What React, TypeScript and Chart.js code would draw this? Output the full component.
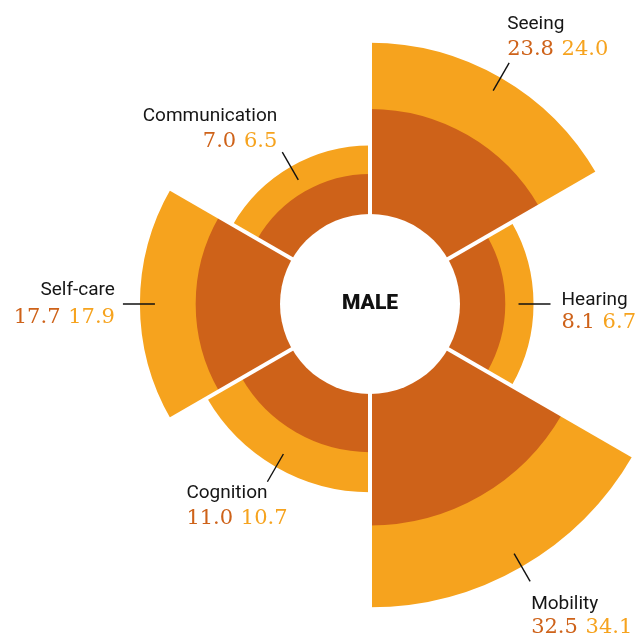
import React, { useEffect, useRef } from 'react';
import { Chart, registerables, RadialLinearScale } from 'chart.js';

Chart.register(...registerables);

// ---- data ----
const categories = ['Seeing', 'Hearing', 'Mobility', 'Cognition', 'Self-care', 'Communication'];
const innerValues = [23.8, 8.1, 32.5, 11.0, 17.7, 7.0];
const outerValues = [24.0, 6.7, 34.1, 10.7, 17.9, 6.5];
const centerLabel = 'MALE';

// ---- styles ----
const DARK = '#CE6219';
const LIGHT = '#F6A31E';
const TEXT = '#161616';
const NAME_FONT = '400 19px Roboto';
const NUM_FONT = '400 21px "DejaVu Serif"';
const CENTER_FONT = '900 21px Roboto';
const HOLE_FRACTION = 90 / 268;
const SCALE_MAX = 50.6;

// label placement relative to the outer end of each leader line
const LABEL_LAYOUT = [
  { dx: -2, nameDy: -34, numDy: -8, align: 'left' },
  { dx: 11, nameDy: 1, numDy: 24, align: 'left' },
  { dx: 1, nameDy: 28, numDy: 52, align: 'left' },
  { dx: -81, nameDy: 16, numDy: 42, align: 'left' },
  { dx: -8, nameDy: -9, numDy: 19, align: 'right' },
  { dx: -5, nameDy: -31, numDy: -5, align: 'right' },
];

// stacked totals for the outer ring
const stackedTotals = innerValues.map((v, i) => v + outerValues[i]);

// area-proportional radial scale with a central hole
class SqrtRadialScale extends RadialLinearScale {
  static id = 'sqrtRadial';
  getDistanceFromCenterForValue(value: number) {
    if (value === null || isNaN(value)) return NaN;
    const D = (this as any).drawingArea;
    const hole = D * ((this as any).options.holeRatio ?? 0);
    const frac = (value - (this as any).min) / ((this as any).max - (this as any).min);
    return Math.sqrt(Math.max(0, hole * hole + (D * D - hole * hole) * frac));
  }
}
Chart.register(SqrtRadialScale as any);

const overlayPlugin = {
  id: 'overlay',
  afterDatasetsDraw(chart: any) {
    const ctx: CanvasRenderingContext2D = chart.ctx;
    const scale = chart.scales.r;
    const cx = scale.xCenter;
    const cy = scale.yCenter;
    const outerMeta = chart.getDatasetMeta(1);
    const hole = scale.getDistanceFromCenterForValue(0);
    let maxR = 0;
    outerMeta.data.forEach((arc: any) => { maxR = Math.max(maxR, arc.outerRadius); });

    ctx.save();
    // white gaps between sectors
    ctx.strokeStyle = '#ffffff';
    ctx.lineWidth = 4;
    outerMeta.data.forEach((arc: any) => {
      const a = arc.startAngle;
      ctx.beginPath();
      ctx.moveTo(cx, cy);
      ctx.lineTo(cx + (maxR + 10) * Math.cos(a), cy + (maxR + 10) * Math.sin(a));
      ctx.stroke();
    });
    // central hole
    ctx.fillStyle = '#ffffff';
    ctx.beginPath();
    ctx.arc(cx, cy, hole, 0, Math.PI * 2);
    ctx.fill();

    // center label
    ctx.fillStyle = '#111111';
    ctx.font = CENTER_FONT;
    ctx.textAlign = 'center';
    ctx.textBaseline = 'middle';
    ctx.fillText(centerLabel, cx, cy);

    // leader lines + labels
    ctx.textBaseline = 'alphabetic';
    outerMeta.data.forEach((arc: any, i: number) => {
      const mid = (arc.startAngle + arc.endAngle) / 2;
      const r0 = arc.outerRadius - 15;
      const r1 = arc.outerRadius + 17;
      const ex = cx + r1 * Math.cos(mid);
      const ey = cy + r1 * Math.sin(mid);
      ctx.strokeStyle = '#111111';
      ctx.lineWidth = 1.4;
      ctx.beginPath();
      ctx.moveTo(cx + r0 * Math.cos(mid), cy + r0 * Math.sin(mid));
      ctx.lineTo(ex, ey);
      ctx.stroke();

      const L = LABEL_LAYOUT[i];
      const x = ex + L.dx;
      ctx.font = NAME_FONT;
      ctx.fillStyle = TEXT;
      ctx.textAlign = L.align as CanvasTextAlign;
      ctx.fillText(categories[i], x, ey + L.nameDy);

      ctx.font = NUM_FONT;
      const t1 = innerValues[i].toFixed(1);
      const t2 = outerValues[i].toFixed(1);
      const w1 = ctx.measureText(t1).width;
      const w2 = ctx.measureText(t2).width;
      const gap = ctx.measureText(' ').width + 1;
      const total = w1 + gap + w2;
      const startX = L.align === 'right' ? x - total : x;
      ctx.textAlign = 'left';
      ctx.fillStyle = DARK;
      ctx.fillText(t1, startX, ey + L.numDy);
      ctx.fillStyle = LIGHT;
      ctx.fillText(t2, startX + w1 + gap, ey + L.numDy);
    });
    ctx.restore();
  },
};

export default function App() {
  const ref = useRef<HTMLCanvasElement>(null);
  useEffect(() => {
    if (!ref.current) return;
    const chart = new Chart(ref.current, {
      type: 'polarArea',
      data: {
        labels: categories,
        datasets: [
          { label: 'inner', data: innerValues, backgroundColor: DARK, borderWidth: 0, clip: false } as any,
          { label: 'outer', data: stackedTotals, backgroundColor: LIGHT, borderWidth: 0, clip: false } as any,
        ],
      },
      options: {
        responsive: false,
        animation: false,
        layout: { padding: { left: 102, right: 0, top: 0, bottom: 29 } },
        plugins: { legend: { display: false }, tooltip: { enabled: false } },
        scales: {
          r: {
            type: 'sqrtRadial',
            min: 0,
            max: SCALE_MAX,
            holeRatio: HOLE_FRACTION,
            display: false,
          } as any,
        },
      } as any,
      plugins: [overlayPlugin],
    });
    return () => chart.destroy();
  }, []);
  return (
    <div style={{ position: 'fixed', left: 0, top: 0, width: 638, height: 637, background: '#fff', overflow: 'hidden' }}>
      <canvas ref={ref} width={638} height={637} style={{ display: 'block' }} />
    </div>
  );
}
